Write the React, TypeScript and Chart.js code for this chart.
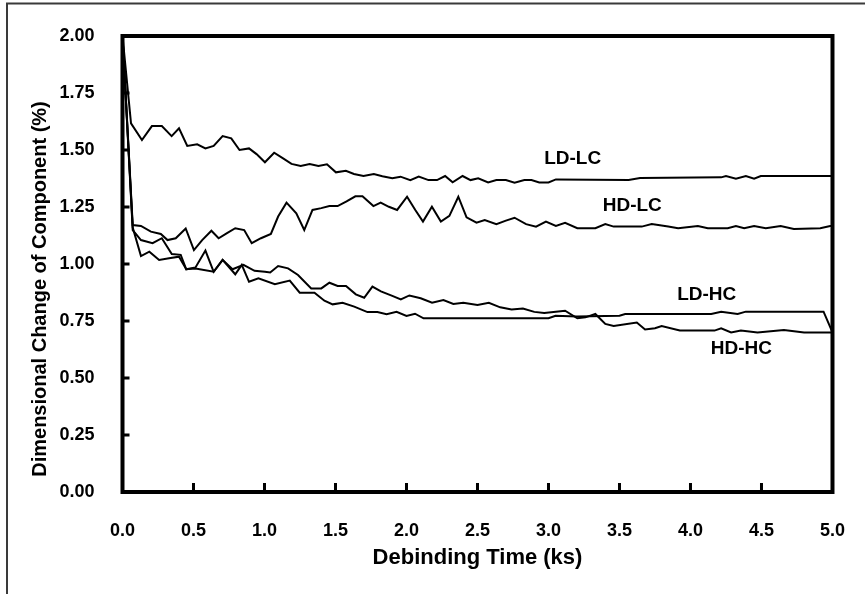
import React, { useEffect, useRef } from "react";
import { Chart, registerables } from "chart.js";

Chart.register(...registerables);

// ---- data (time in ks, dimensional change in %) ----
const ldlcTime = [0, 0.06, 0.137, 0.207, 0.277, 0.346, 0.398, 0.456, 0.526, 0.584, 0.642, 0.705, 0.766, 0.824, 0.891, 0.944, 1.003, 1.068, 1.131, 1.19, 1.255, 1.318, 1.38, 1.44, 1.503, 1.573, 1.63, 1.697, 1.77, 1.83, 1.9, 1.958, 2.027, 2.086, 2.155, 2.215, 2.272, 2.325, 2.395, 2.451, 2.505, 2.575, 2.633, 2.7, 2.761, 2.83, 2.88, 2.935, 3.0, 3.052, 3.564, 3.645, 4.216, 4.25, 4.32, 4.39, 4.448, 4.495, 5.0];
const ldlcValue = [2.0, 1.617, 1.544, 1.605, 1.605, 1.561, 1.595, 1.518, 1.525, 1.507, 1.518, 1.561, 1.551, 1.5, 1.507, 1.482, 1.446, 1.488, 1.463, 1.439, 1.43, 1.439, 1.43, 1.437, 1.402, 1.409, 1.395, 1.386, 1.395, 1.385, 1.376, 1.383, 1.368, 1.383, 1.368, 1.368, 1.386, 1.358, 1.386, 1.368, 1.376, 1.358, 1.368, 1.368, 1.357, 1.368, 1.368, 1.358, 1.358, 1.371, 1.368, 1.377, 1.38, 1.386, 1.374, 1.386, 1.374, 1.386, 1.386];

const hdlcTime = [0, 0.072, 0.13, 0.2, 0.27, 0.317, 0.375, 0.445, 0.503, 0.561, 0.626, 0.677, 0.736, 0.794, 0.857, 0.91, 0.975, 1.045, 1.096, 1.155, 1.224, 1.28, 1.338, 1.4, 1.457, 1.515, 1.578, 1.64, 1.69, 1.767, 1.818, 1.876, 1.934, 2.004, 2.062, 2.116, 2.179, 2.242, 2.302, 2.365, 2.423, 2.493, 2.551, 2.633, 2.7, 2.761, 2.842, 2.912, 2.982, 3.052, 3.117, 3.203, 3.33, 3.4, 3.459, 3.657, 3.727, 3.843, 3.913, 4.052, 4.122, 4.262, 4.32, 4.378, 4.448, 4.53, 4.635, 4.728, 4.914, 4.984, 5.0];
const hdlcValue = [2.0, 1.171, 1.167, 1.142, 1.132, 1.105, 1.113, 1.156, 1.061, 1.105, 1.146, 1.113, 1.135, 1.157, 1.149, 1.091, 1.113, 1.132, 1.208, 1.269, 1.222, 1.149, 1.237, 1.245, 1.254, 1.254, 1.275, 1.297, 1.297, 1.254, 1.269, 1.251, 1.237, 1.295, 1.237, 1.186, 1.251, 1.186, 1.211, 1.295, 1.205, 1.181, 1.193, 1.175, 1.19, 1.203, 1.175, 1.164, 1.186, 1.167, 1.181, 1.157, 1.157, 1.175, 1.164, 1.164, 1.175, 1.164, 1.157, 1.167, 1.157, 1.157, 1.167, 1.157, 1.167, 1.157, 1.167, 1.154, 1.157, 1.167, 1.167];

const ldhcTime = [0, 0.072, 0.13, 0.212, 0.277, 0.347, 0.41, 0.449, 0.514, 0.584, 0.642, 0.705, 0.794, 0.84, 0.891, 0.957, 1.073, 1.178, 1.248, 1.352, 1.422, 1.48, 1.55, 1.632, 1.725, 1.795, 1.86, 1.93, 2.0, 2.06, 2.12, 3.0, 3.05, 3.2, 3.5, 3.54, 4.146, 4.216, 4.332, 4.39, 4.937, 5.0];
const ldhcValue = [2.0, 1.149, 1.105, 1.091, 1.113, 1.044, 1.04, 0.977, 0.985, 1.059, 0.966, 1.018, 0.955, 0.996, 0.922, 0.937, 0.911, 0.927, 0.874, 0.874, 0.839, 0.823, 0.83, 0.813, 0.789, 0.789, 0.78, 0.79, 0.772, 0.782, 0.762, 0.762, 0.773, 0.77, 0.773, 0.781, 0.781, 0.791, 0.781, 0.791, 0.791, 0.7];

const hdhcTime = [0, 0.072, 0.13, 0.189, 0.258, 0.328, 0.398, 0.449, 0.514, 0.642, 0.705, 0.775, 0.852, 0.93, 1.003, 1.04, 1.096, 1.166, 1.236, 1.329, 1.4, 1.457, 1.515, 1.574, 1.643, 1.702, 1.76, 1.82, 1.9, 1.96, 2.02, 2.1, 2.18, 2.26, 2.33, 2.4, 2.5, 2.58, 2.66, 2.74, 2.82, 2.9, 2.97, 3.052, 3.117, 3.203, 3.26, 3.33, 3.4, 3.459, 3.622, 3.68, 3.75, 3.797, 3.925, 4.169, 4.216, 4.286, 4.355, 4.472, 4.658, 4.8, 5.0];
const hdhcValue = [2.0, 1.16, 1.035, 1.054, 1.018, 1.025, 1.032, 0.977, 0.98, 0.966, 1.018, 0.977, 0.996, 0.97, 0.966, 0.963, 0.991, 0.981, 0.952, 0.893, 0.893, 0.918, 0.904, 0.904, 0.867, 0.852, 0.901, 0.88, 0.86, 0.845, 0.862, 0.85, 0.83, 0.842, 0.825, 0.83, 0.82, 0.83, 0.81, 0.8, 0.805, 0.79, 0.785, 0.791, 0.795, 0.762, 0.766, 0.781, 0.737, 0.728, 0.743, 0.713, 0.718, 0.728, 0.708, 0.708, 0.718, 0.7, 0.708, 0.7, 0.711, 0.7, 0.7];

const seriesNames = ["LD-LC", "HD-LC", "LD-HC", "HD-HC"];
const labelTime = [3.17, 3.59, 4.114, 4.358];
const labelValue = [1.46, 1.254, 0.864, 0.627];

const xTickValues = [0, 0.5, 1.0, 1.5, 2.0, 2.5, 3.0, 3.5, 4.0, 4.5, 5.0];
const yTickValues = [0, 0.25, 0.5, 0.75, 1.0, 1.25, 1.5, 1.75, 2.0];

const xTitle = "Debinding Time (ks)";
const yTitle = "Dimensional Change of Component (%)";

const FONT = '"Liberation Sans", Arial, sans-serif';

const toPoints = (t: number[], v: number[]) => t.map((x, i) => ({ x, y: v[i] }));

const framePlugin = {
  id: "frameAndLabels",
  beforeDraw(chart: any) {
    const ctx = chart.ctx;
    ctx.save();
    ctx.strokeStyle = "#3a3a3a";
    ctx.lineWidth = 2;
    ctx.beginPath();
    ctx.moveTo(7, chart.height + 10);
    ctx.lineTo(7, 3.5);
    ctx.lineTo(chart.width + 10, 3.5);
    ctx.stroke();
    ctx.restore();
  },
  afterDatasetsDraw(chart: any) {
    const { ctx, chartArea: a } = chart;
    const xs = chart.scales.x;
    const ys = chart.scales.y;
    ctx.save();
    ctx.strokeStyle = "#000";
    ctx.lineWidth = 4;
    ctx.strokeRect(a.left, a.top, a.right - a.left, a.bottom - a.top);
    ctx.lineWidth = 3;
    ctx.beginPath();
    xTickValues.forEach((v) => {
      const px = xs.getPixelForValue(v);
      ctx.moveTo(px, a.bottom);
      ctx.lineTo(px, a.bottom - 9);
    });
    yTickValues.forEach((v) => {
      const py = ys.getPixelForValue(v);
      ctx.moveTo(a.left, py);
      ctx.lineTo(a.left + 7, py);
    });
    ctx.stroke();

    ctx.fillStyle = "#000";
    ctx.textAlign = "center";
    ctx.textBaseline = "middle";
    ctx.font = `bold 19px ${FONT}`;
    seriesNames.forEach((s, i) => {
      ctx.fillText(s, xs.getPixelForValue(labelTime[i]), ys.getPixelForValue(labelValue[i]));
    });

    // axis titles
    ctx.font = `bold 22px ${FONT}`;
    ctx.fillText(xTitle, (a.left + a.right) / 2, a.bottom + 66);
    ctx.save();
    ctx.translate(40, (a.top + a.bottom) / 2 + 25);
    ctx.rotate(-Math.PI / 2);
    ctx.font = `bold 20px ${FONT}`;
    ctx.fillText(yTitle, 0, 0);
    ctx.restore();
    ctx.restore();
  },
};

export default function App() {
  const ref = useRef<HTMLCanvasElement | null>(null);
  useEffect(() => {
    if (!ref.current) return;
    const line = (t: number[], v: number[], label: string) => ({
      label,
      data: toPoints(t, v),
      borderColor: "#000",
      borderWidth: 2,
      pointRadius: 0,
      tension: 0,
      fill: false,
    });
    const chart = new Chart(ref.current, {
      type: "line",
      data: {
        datasets: [
          line(ldlcTime, ldlcValue, seriesNames[0]),
          line(hdlcTime, hdlcValue, seriesNames[1]),
          line(ldhcTime, ldhcValue, seriesNames[2]),
          line(hdhcTime, hdhcValue, seriesNames[3]),
        ],
      },
      options: {
        animation: false,
        responsive: false,
        devicePixelRatio: 1,
        layout: { padding: { left: 0, right: 25.5, top: 36, bottom: 0 } },
        plugins: { legend: { display: false }, tooltip: { enabled: false } },
        scales: {
          x: {
            type: "linear",
            min: 0,
            max: 5,
            grid: { display: false },
            border: { display: false },
            ticks: {
              stepSize: 0.5,
              autoSkip: false,
              maxRotation: 0,
              padding: 20,
              color: "#000",
              font: { family: FONT, size: 18, weight: "bold" },
              callback: (v: any) => Number(v).toFixed(1),
            },
            afterFit: (s: any) => {
              s.height = 102;
            },
          },
          y: {
            type: "linear",
            min: 0,
            max: 2,
            grid: { display: false },
            border: { display: false },
            ticks: {
              stepSize: 0.25,
              padding: 20,
              color: "#000",
              font: { family: FONT, size: 18, weight: "bold" },
              callback: (v: any) => Number(v).toFixed(2),
            },
            afterFit: (s: any) => {
              s.width = 122.5;
            },
          },
        },
      },
      plugins: [framePlugin],
    });
    return () => chart.destroy();
  }, []);
  return (
    <div style={{ position: "fixed", left: 0, top: 0, width: 865, height: 594, background: "#fff" }}>
      <canvas ref={ref} width={865} height={594} style={{ width: 865, height: 594, display: "block" }} />
    </div>
  );
}
